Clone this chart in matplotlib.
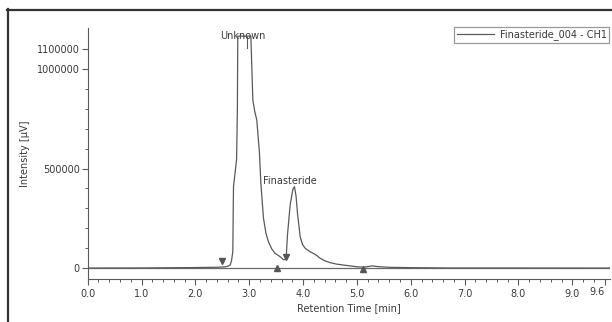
"""Chromatogram of Finasteride_004 - CH1"""

import matplotlib
matplotlib.use("Agg")
import matplotlib.pyplot as plt
from matplotlib.lines import Line2D

# Retention time [min] and intensity [uV]
time = [0.0, 1.0, 2.0, 2.4, 2.55, 2.6, 2.645, 2.67, 2.695, 2.703, 2.708,
        2.765, 2.78, 2.787, 3.03, 3.067, 3.10, 3.14, 3.19, 3.215, 3.264,
        3.31, 3.357, 3.42, 3.48, 3.574, 3.636, 3.67, 3.69, 3.71, 3.76,
        3.81, 3.84, 3.87, 3.896, 3.946, 3.99, 4.04, 4.13, 4.2, 4.26,
        4.318, 4.4, 4.504, 4.62, 4.75, 5.0, 5.12, 5.2, 5.28, 5.4, 5.62,
        6.0, 6.7, 9.7]
intensity = [0, 500, 2500, 4000, 6000, 9000, 15000, 35000, 82000, 300000,
             410000, 545000, 800000, 1165000, 1165000, 844000, 790000,
             744000, 578000, 430000, 251000, 175000, 132000, 95000, 74000,
             57000, 42000, 44000, 70000, 166000, 317000, 395000, 409000,
             360000, 275000, 157000, 118000, 99000, 82000, 72000, 62000,
             49000, 37000, 27000, 20000, 15000, 6500, 4500, 7000, 11000,
             7000, 3500, 2000, 300, 0]

# peak start / end markers
start_t = [2.49, 3.69]
start_i = [33000, 57000]
end_t = [3.51, 5.12]
end_i = [-2000, -7000]

peak_names = ["Unknown", "Finasteride"]
peak_label_t = [2.88, 3.76]
peak_label_i = [1168000, 439000]

x_ticks = [0, 1, 2, 3, 4, 5, 6, 7, 8, 9]
x_labels = ["0.0", "1.0", "2.0", "3.0", "4.0", "5.0", "6.0", "7.0", "8.0", "9.0"]
y_ticks = [0, 500000, 1000000, 1100000]

grey = "#5a5a5a"
txt = "#3a3a3a"

fig = plt.figure(figsize=(6.12, 3.22), dpi=100)
ax = fig.add_axes([87.7 / 612, 43 / 322, (610 - 87.7) / 612, 251 / 322])

# baseline and trace
ax.plot([0, 9.7], [0, 0], color="#6a6a6a", lw=0.9)
line, = ax.plot(time, intensity, color=grey, lw=0.9)
ax.plot([2.955, 2.955], [1160000, 1105000], color=grey, lw=0.8)

ax.plot(start_t, start_i, linestyle="none", marker="v", ms=4, color="#555555")
ax.plot(end_t, end_i, linestyle="none", marker="^", ms=4, color="#555555")

for name, t, i in zip(peak_names, peak_label_t, peak_label_i):
    ax.text(t, i, name, ha="center", va="center", fontsize=7, color=txt)

ax.set_xlim(0, 9.7)
ax.set_ylim(-55000, 1206000)

ax.set_xticks(x_ticks + [9.6])
ax.set_xticklabels(x_labels + [""])
ax.set_xticks([i * 0.2 for i in range(49)], minor=True)
ax.set_yticks(y_ticks)
ax.set_yticklabels([str(v) for v in y_ticks])
ax.set_yticks([i * 100000 for i in range(1, 10)], minor=True)
ax.text(9.6, -0.033, "9.6", transform=ax.get_xaxis_transform(), ha="right",
        va="top", fontsize=7, color=txt)

ax.tick_params(axis="both", which="major", length=4.3, width=0.8,
               color=grey, labelsize=7, labelcolor=txt)
ax.tick_params(axis="both", which="minor", length=2.2, width=0.7, color=grey)
ax.tick_params(axis="x", which="major", pad=3)
ax.tick_params(axis="y", which="major", pad=1.5)

for s in ["top", "right"]:
    ax.spines[s].set_visible(False)
for s in ["left", "bottom"]:
    ax.spines[s].set_color(grey)
    ax.spines[s].set_linewidth(0.8)

ax.set_xlabel("Retention Time [min]", fontsize=7, color=txt, labelpad=3)
ax.set_ylabel("Intensity [µV]", fontsize=7, color=txt, labelpad=5)

leg = ax.legend([line], ["Finasteride_004 - CH1"], loc="upper right",
                bbox_to_anchor=(609 / 612, 1 - 27 / 322),
                bbox_transform=fig.transFigure, fontsize=7, frameon=True,
                fancybox=False, borderpad=0.25, handlelength=3.8,
                handletextpad=0.6, borderaxespad=0)
leg.get_frame().set_edgecolor("#808080")
leg.get_frame().set_linewidth(0.9)
for t in leg.get_texts():
    t.set_color(txt)

# outer frame (cut off on right and bottom)
fig.add_artist(Line2D([7.5 / 612, 7.5 / 612], [0, 1 - 9 / 322],
                      transform=fig.transFigure, color="#333333", lw=1.6))
fig.add_artist(Line2D([7 / 612, 1], [1 - 9.5 / 322, 1 - 9.5 / 322],
                      transform=fig.transFigure, color="#333333", lw=1.6))

fig.savefig("out.png", dpi=100)
